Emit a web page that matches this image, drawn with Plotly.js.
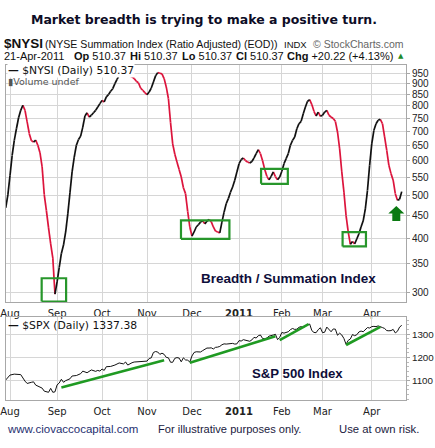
<!DOCTYPE html>
<html>
<head>
<meta charset="utf-8">
<script src="https://cdn.plot.ly/plotly-3.0.1.min.js"></script>
<style>html,body{margin:0;padding:0;background:#fff;}#chart{width:435px;height:448px;}</style>
</head>
<body>
<div id="chart"></div>
<script>
// ---------------- DATA ----------------
const nysiDates = [
 '2010-07-29','2010-07-30',
 '2010-08-02','2010-08-03','2010-08-04','2010-08-05','2010-08-06','2010-08-09','2010-08-10','2010-08-11','2010-08-12','2010-08-13',
 '2010-08-16','2010-08-17','2010-08-18','2010-08-19','2010-08-20','2010-08-23','2010-08-24','2010-08-25','2010-08-26','2010-08-27','2010-08-30','2010-08-31',
 '2010-09-01','2010-09-02','2010-09-03','2010-09-07','2010-09-08','2010-09-09','2010-09-10','2010-09-13','2010-09-14','2010-09-15','2010-09-16','2010-09-17',
 '2010-09-20','2010-09-21','2010-09-22','2010-09-23','2010-09-24','2010-09-27','2010-09-28','2010-09-29','2010-09-30',
 '2010-10-01','2010-10-04','2010-10-05','2010-10-06','2010-10-07','2010-10-08','2010-10-11','2010-10-12','2010-10-13','2010-10-14','2010-10-15',
 '2010-10-18','2010-10-19','2010-10-20','2010-10-21','2010-10-22','2010-10-25','2010-10-26','2010-10-27','2010-10-28','2010-10-29',
 '2010-11-01','2010-11-02','2010-11-03','2010-11-04','2010-11-05','2010-11-08','2010-11-09','2010-11-10','2010-11-11','2010-11-12',
 '2010-11-15','2010-11-16','2010-11-17','2010-11-18','2010-11-19','2010-11-22','2010-11-23','2010-11-24','2010-11-26','2010-11-29','2010-11-30',
 '2010-12-01','2010-12-02','2010-12-03','2010-12-06','2010-12-07','2010-12-08','2010-12-09','2010-12-10','2010-12-13','2010-12-14','2010-12-15','2010-12-16','2010-12-17',
 '2010-12-20','2010-12-21','2010-12-22','2010-12-23','2010-12-27','2010-12-28','2010-12-29','2010-12-30','2010-12-31',
 '2011-01-03','2011-01-04','2011-01-05','2011-01-06','2011-01-07','2011-01-10','2011-01-11','2011-01-12','2011-01-13','2011-01-14',
 '2011-01-18','2011-01-19','2011-01-20','2011-01-21','2011-01-24','2011-01-25','2011-01-26','2011-01-27','2011-01-28','2011-01-31',
 '2011-02-01','2011-02-02','2011-02-03','2011-02-04','2011-02-07','2011-02-08','2011-02-09','2011-02-10','2011-02-11',
 '2011-02-14','2011-02-15','2011-02-16','2011-02-17','2011-02-18','2011-02-22','2011-02-23','2011-02-24','2011-02-25','2011-02-28',
 '2011-03-01','2011-03-02','2011-03-03','2011-03-04','2011-03-07','2011-03-08','2011-03-09','2011-03-10','2011-03-11',
 '2011-03-14','2011-03-15','2011-03-16','2011-03-17','2011-03-18','2011-03-21','2011-03-22','2011-03-23','2011-03-24','2011-03-25',
 '2011-03-28','2011-03-29','2011-03-30','2011-03-31',
 '2011-04-01','2011-04-04','2011-04-05','2011-04-06','2011-04-07','2011-04-08','2011-04-11','2011-04-12','2011-04-13','2011-04-14','2011-04-15',
 '2011-04-18','2011-04-19','2011-04-20','2011-04-21'
];
const nysiValues = [
 469,502,
 556,617,668,710,752,782,803,782,736,692,
 667,662,669,651,626,581,502,462,422,388,360,298,
 318,343,369,386,413,454,507,566,612,651,671,683,
 716,759,772,755,762,772,782,796,810,
 824,817,839,849,864,876,900,920,940,951,956,
 944,940,937,932,924,911,904,879,869,858,
 849,861,879,907,937,953,950,947,924,884,
 832,733,656,621,596,573,551,521,505,460,424,
 404,413,424,429,435,438,431,437,441,436,424,415,413,
 411,435,458,479,492,509,523,542,566,
 591,604,609,601,596,593,598,609,623,636,
 623,600,573,553,543,553,566,552,543,551,
 568,591,607,623,651,668,680,710,729,
 738,768,796,820,827,806,778,759,775,758,
 762,775,782,762,755,749,738,698,639,
 566,509,450,413,387,393,388,398,409,424,
 438,466,514,586,
 656,704,729,742,746,729,680,634,586,561,542,
 505,488,490.15,510.37
];

const spxDates = [
 '2010-07-29','2010-08-02','2010-08-04','2010-08-09','2010-08-11','2010-08-12','2010-08-16','2010-08-17','2010-08-18','2010-08-20',
 '2010-08-23','2010-08-24','2010-08-25','2010-08-26','2010-08-27','2010-08-30','2010-08-31',
 '2010-09-01','2010-09-02','2010-09-03','2010-09-07','2010-09-08','2010-09-10','2010-09-13','2010-09-15','2010-09-17',
 '2010-09-20','2010-09-22','2010-09-24','2010-09-28','2010-09-29','2010-09-30',
 '2010-10-01','2010-10-04','2010-10-05','2010-10-07','2010-10-11','2010-10-13','2010-10-15','2010-10-18','2010-10-19','2010-10-20',
 '2010-10-21','2010-10-22','2010-10-26','2010-10-28','2010-10-29',
 '2010-11-01','2010-11-02','2010-11-03','2010-11-04','2010-11-05','2010-11-08','2010-11-09','2010-11-10','2010-11-11','2010-11-12',
 '2010-11-15','2010-11-16','2010-11-17','2010-11-18','2010-11-19','2010-11-22','2010-11-23','2010-11-24','2010-11-26','2010-11-29','2010-11-30',
 '2010-12-01','2010-12-02','2010-12-03','2010-12-06','2010-12-07','2010-12-08','2010-12-09','2010-12-10','2010-12-13','2010-12-14','2010-12-15','2010-12-16','2010-12-17',
 '2010-12-20','2010-12-21','2010-12-22','2010-12-23','2010-12-27','2010-12-28','2010-12-29','2010-12-30','2010-12-31',
 '2011-01-03','2011-01-04','2011-01-05','2011-01-06','2011-01-07','2011-01-10','2011-01-11','2011-01-12','2011-01-13','2011-01-14',
 '2011-01-18','2011-01-19','2011-01-20','2011-01-21','2011-01-24','2011-01-25','2011-01-26','2011-01-27','2011-01-28','2011-01-31',
 '2011-02-01','2011-02-02','2011-02-03','2011-02-04','2011-02-07','2011-02-08','2011-02-09','2011-02-10','2011-02-11',
 '2011-02-14','2011-02-15','2011-02-16','2011-02-17','2011-02-18','2011-02-22','2011-02-23','2011-02-24','2011-02-25','2011-02-28',
 '2011-03-01','2011-03-02','2011-03-03','2011-03-04','2011-03-07','2011-03-08','2011-03-09','2011-03-10','2011-03-11',
 '2011-03-14','2011-03-15','2011-03-16','2011-03-17','2011-03-18','2011-03-21','2011-03-22','2011-03-23','2011-03-24','2011-03-25',
 '2011-03-28','2011-03-29','2011-03-30','2011-03-31',
 '2011-04-01','2011-04-04','2011-04-05','2011-04-06','2011-04-07','2011-04-08','2011-04-11','2011-04-12','2011-04-13','2011-04-14','2011-04-15',
 '2011-04-18','2011-04-19','2011-04-20','2011-04-21'
];
const spxValues = [
 1103,1124,1128,1126,1098,1088,1093,1095,1081,1073,
 1068,1055,1052,1050,1067,1050,1052,
 1082,1090,1106,1093,1100,1108,1120,1122,1130,
 1141,1134,1146,1140,1144,1141,
 1150,1144,1160,1161,1167,1176,1172,1180,1167,1174,
 1177,1180,1182,1182,1184,
 1184,1195,1198,1221,1225,1223,1213,1218,1213,1200,
 1198,1179,1179,1196,1199,1197,1181,1198,1189,1188,1180,
 1206,1221,1224,1223,1223,1229,1233,1240,1240,1241,1236,1243,1244,
 1247,1254,1258,1257,1258,1259,1260,1257,1258,
 1272,1270,1276,1273,1271,1269,1275,1286,1283,1293,
 1296,1281,1280,1283,1291,1292,1296,1299,1276,1286,
 1307,1304,1307,1310,1319,1324,1320,1321,1329,
 1332,1328,1336,1340,1343,1315,1307,1306,1319,1327,
 1306,1308,1330,1321,1310,1322,1321,1295,1304,
 1296,1281,1256,1273,1279,1298,1293,1297,1309,1313,
 1310,1320,1328,1326,
 1332,1333,1332,1335,1333,1328,1324,1315,1314,1315,1320,
 1305,1312,1330,1337.38
];

// green trend lines on the S&P 500 panel (start date, end date, start value, end value)
const trendStart  = ['2010-09-03','2010-11-30','2011-01-31','2011-03-16'];
const trendEnd    = ['2010-11-11','2011-01-27','2011-02-17 12:00','2011-04-07'];
const trendFrom   = [1071, 1177, 1274, 1253];
const trendTo     = [1188, 1291, 1343, 1331];

// green boxes on the summation index panel
const boxStart = ['2010-08-20 19:00','2010-11-22 21:00','2011-01-18 07:00','2011-03-14 09:00'];
const boxEnd   = ['2010-09-08 05:00','2010-12-27 12:00','2011-02-03 19:00','2011-03-29 07:00'];
const boxLow   = [286.7, 398.3, 531.8, 382.8];
const boxHigh  = [324, 438.8, 575.4, 412.6];

const monthTicks  = ['2010-08-02','2010-09-01','2010-10-01','2010-11-01','2010-12-01','2011-01-03','2011-02-01','2011-03-01','2011-04-01'];
const monthLabels = ['Aug','Sep','Oct','Nov','Dec','<b>2011</b>','Feb','Mar','Apr'];
const nysiTicks = [300,350,400,450,500,550,600,650,700,750,800,850,900,950];
const spxTicks = [1100,1200,1300];
const holidays = ['2010-09-06','2010-11-25','2010-12-24','2011-01-17','2011-02-21','2011-04-22'];

// ---------------- BUILD ----------------
function splitByDirection(xs, ys) {
  const up = {x: [], y: []}, down = {x: [], y: []};
  for (let i = 1; i < xs.length; i++) {
    const t = ys[i] >= ys[i - 1] ? up : down;
    t.x.push(xs[i - 1], xs[i], null);
    t.y.push(ys[i - 1], ys[i], null);
  }
  return {up, down};
}
const seg = splitByDirection(nysiDates, nysiValues);

const traces = [];
traces.push({x: seg.down.x, y: seg.down.y, xaxis: 'x', yaxis: 'y', mode: 'lines', connectgaps: false,
  line: {color: '#dc143c', width: 1.7}, hoverinfo: 'skip'});
traces.push({x: seg.up.x, y: seg.up.y, xaxis: 'x', yaxis: 'y', mode: 'lines', connectgaps: false,
  line: {color: '#111111', width: 1.7}, hoverinfo: 'skip'});

// boxes
const bx = [], by = [];
for (let i = 0; i < boxStart.length; i++) {
  bx.push(boxStart[i], boxEnd[i], boxEnd[i], boxStart[i], boxStart[i], null);
  by.push(boxLow[i], boxLow[i], boxHigh[i], boxHigh[i], boxLow[i], null);
}
traces.push({x: bx, y: by, xaxis: 'x', yaxis: 'y', mode: 'lines', connectgaps: false,
  line: {color: '#27962b', width: 2.2}, hoverinfo: 'skip'});

// S&P 500
traces.push({x: spxDates, y: spxValues, xaxis: 'x2', yaxis: 'y2', mode: 'lines',
  line: {color: '#111111', width: 1}, hoverinfo: 'skip'});
const tx = [], ty = [];
for (let i = 0; i < trendStart.length; i++) {
  tx.push(trendStart[i], trendEnd[i], null);
  ty.push(trendFrom[i], trendTo[i], null);
}
traces.push({x: tx, y: ty, xaxis: 'x2', yaxis: 'y2', mode: 'lines', connectgaps: false,
  line: {color: '#1f9a22', width: 2.6}, hoverinfo: 'skip'});

// ---------------- LAYOUT ----------------
const ML = 6, MR = 29, MT = 65, MB = 48, W = 435, H = 448;
const PW = W - ML - MR, PH = H - MT - MB;
const PX = x => (x - ML) / PW;
const PY = y => (H - MB - y) / PH;

const gridC = '#d6d6d6', frameC = '#a8a8a8';
const sans = 'Liberation Sans, Arial, sans-serif';
const dv = 'DejaVu Sans, Verdana, sans-serif';

const xCommon = {
  type: 'date',
  range: ['2010-07-29 03:00', '2011-04-26 00:00'],
  rangebreaks: [{bounds: ['sat', 'mon']}, {values: holidays}],
  tickmode: 'array', tickvals: monthTicks, ticktext: monthLabels,
  showgrid: true, gridcolor: gridC, gridwidth: 1,
  showline: true, mirror: true, linecolor: frameC, linewidth: 1,
  ticks: '', ticklabelstandoff: 2,
  tickfont: {family: dv, size: 10, color: '#222'},
  zeroline: false, fixedrange: true
};

function ann(text, x, y, opts) {
  return Object.assign({text: text, xref: 'paper', yref: 'paper', x: PX(x), y: PY(y),
    xanchor: 'left', yanchor: 'middle', showarrow: false, borderpad: 0,
    font: {family: sans, size: 11, color: '#111'}}, opts || {});
}
const hdr = {family: sans, size: 11, color: '#111'};

const annotations = [
  ann('<b>$NYSI</b>', 3, 43.5, {font: {family: sans, size: 13.5, color: '#111'}}),
  ann('(NYSE Summation Index (Ratio Adjusted) (EOD))', 44, 44, {font: {family: sans, size: 10.6, color: '#111'}}),
  ann('INDX', 283, 44.5, {font: {family: sans, size: 9.5, color: '#111'}}),
  ann('© StockCharts.com', 405, 44, {xanchor: 'right', font: {family: sans, size: 10.5, color: '#666'}}),
  ann('21-Apr-2011', 3, 56, {font: hdr}),
  ann('<b>Op</b> 510.37', 73, 56, {font: hdr}),
  ann('<b>Hi</b> 510.37', 129, 56, {font: hdr}),
  ann('<b>Lo</b> 510.37', 181, 56, {font: hdr}),
  ann('<b>Cl</b> 510.37', 235, 56, {font: hdr}),
  ann('<b>Chg</b> +20.22 (+4.13%)', 286, 56, {font: hdr}),
  ann('▲', 397, 56, {font: {family: dv, size: 7, color: '#1d8a2a'}}),
  ann('<b>—</b> $NYSI (Daily) 510.37', 7, 70.5, {bgcolor: '#ffffff', font: {family: dv, size: 10.8, color: '#111'}}),
  ann('▮Volume undef', 7, 81.5, {font: {family: dv, size: 9.5, color: '#555'}}),
  ann('<b>Breadth / Summation Index</b>', 200, 278.5, {font: {family: sans, size: 13.5, color: '#0e0e3a'}}),
  ann('<b>—</b> $SPX (Daily) 1337.38', 7, 325, {font: {family: dv, size: 10.8, color: '#111'}}),
  ann('<b>S&amp;P 500 Index</b>', 251, 373, {font: {family: sans, size: 13.2, color: '#0e0e3a'}}),
  ann('www.ciovaccocapital.com', 6, 428.5, {font: {family: sans, size: 11.5, color: '#1f2f70'}}),
  ann('For illustrative purposes only.', 157, 428.5, {font: {family: sans, size: 11.1, color: '#1a1a40'}}),
  ann('Use at own risk.', 338, 428.5, {font: {family: sans, size: 11.3, color: '#1a1a40'}})
];

const shapes = [{
  type: 'path', xref: 'paper', yref: 'paper', xsizemode: 'pixel', ysizemode: 'pixel',
  xanchor: PX(396.3), yanchor: PY(206),
  path: 'M0,0 L8,-7.5 L4,-7.5 L4,-15 L-4,-15 L-4,-7.5 L-8,-7.5 Z',
  fillcolor: '#0b7a12', line: {width: 0}
}];

const layout = {
  width: W, height: H,
  margin: {l: ML, r: MR, t: MT, b: MB, pad: 0},
  paper_bgcolor: '#ffffff', plot_bgcolor: '#ffffff',
  showlegend: false,
  title: {text: '<b>Market breadth is trying to make a positive turn.</b>',
    font: {family: dv, size: 12.5, color: '#0d0d26'},
    xref: 'container', yref: 'container', x: 204 / W, y: 1 - 19.5 / H, xanchor: 'center', yanchor: 'middle'},
  xaxis: Object.assign({}, xCommon, {anchor: 'y', domain: [0, 1]}),
  xaxis2: Object.assign({}, xCommon, {anchor: 'y2', domain: [0, 1], matches: 'x'}),
  yaxis: {
    domain: [(H - MB - 302) / PH, 1], type: 'log',
    range: [Math.log10(286), Math.log10(992)],
    side: 'right', tickmode: 'array', tickvals: nysiTicks, ticktext: nysiTicks.map(String),
    showgrid: true, gridcolor: gridC, showline: true, mirror: true, linecolor: frameC,
    ticks: 'outside', ticklen: 3, tickcolor: frameC,
    tickfont: {family: sans, size: 10, color: '#222'}, zeroline: false, fixedrange: true
  },
  yaxis2: {
    domain: [0, (H - MB - 317.3) / PH], range: [1017, 1372],
    side: 'right', tickmode: 'array', tickvals: spxTicks, ticktext: spxTicks.map(String),
    showgrid: true, gridcolor: gridC, showline: true, mirror: true, linecolor: frameC,
    ticks: 'outside', ticklen: 3, tickcolor: frameC,
    minor: {ticks: 'outside', ticklen: 2, dtick: 20, tickcolor: '#bbbbbb', showgrid: false},
    tickfont: {family: sans, size: 9.8, color: '#222'}, zeroline: false, fixedrange: true
  },
  annotations: annotations,
  shapes: shapes
};

Plotly.newPlot('chart', traces, layout, {staticPlot: true, displayModeBar: false});
</script>
</body>
</html>
